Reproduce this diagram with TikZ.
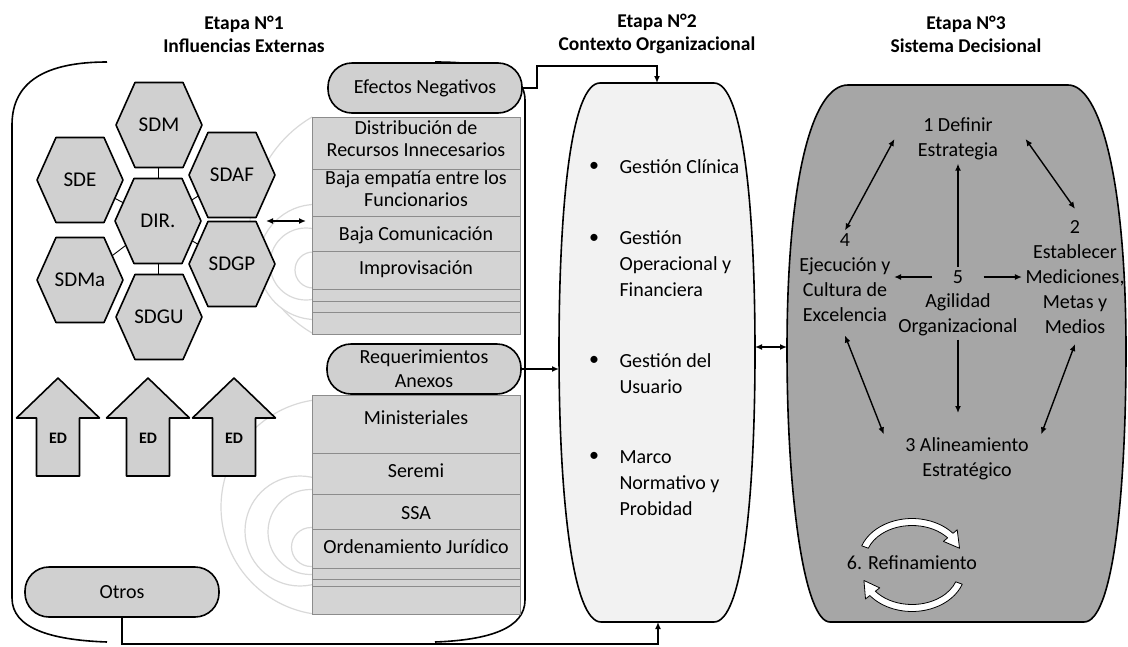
\documentclass[tikz,border=0pt]{standalone}
\usepackage{fontspec}
\setmainfont{Carlito}
\usetikzlibrary{arrows.meta,backgrounds}

\tikzset{
	marco/.style={line width=1.6pt},
	hexa/.style={draw, line width=1.6pt, fill=gray!37, line join=round},
	hextexto/.style={font=\fontsize{21}{25}\selectfont, inner sep=1pt},
	enlace/.style={line width=0.9pt},
	pildora/.style={draw, line width=1.6pt, fill=gray!37, rounded corners=24pt,
		minimum width=194pt, minimum height=50pt, align=center, inner sep=0pt,
		font=\fontsize{20}{24}\selectfont},
	fila/.style={draw=gray!90, line width=0.6pt, fill=gray!34},
	filatexto/.style={font=\fontsize{20}{22}\selectfont, align=center, inner sep=0pt},
	onda/.style={draw=gray!30, line width=1.2pt, fill=white},
	edtexto/.style={font=\bfseries\fontsize{16}{18}\selectfont},
	flecha/.style={line width=1.4pt, -{Latex[length=7pt,width=6pt]}},
	dflecha/.style={line width=1.4pt, {Latex[length=7pt,width=6pt]}-{Latex[length=7pt,width=6pt]}},
	titulo/.style={font=\bfseries\fontsize{19.5}{23}\selectfont, align=center},
	texto/.style={font=\fontsize{20}{25}\selectfont, align=center},
	item/.style={font=\fontsize{20}{26}\selectfont, align=left, anchor=west},
	curva/.style={draw, fill=white, line width=0.8pt, line join=round}
}

\begin{document}
\begin{tikzpicture}[x=1pt,y=-1pt]
	\useasboundingbox (0,0) rectangle (1128,646);

	% titulos
	\node[titulo] (t1) at (244,34) {Etapa N°1\\Influencias Externas};
	\node[titulo] (t2) at (657,34) {Etapa N°2\\Contexto Organizacional};
	\node[titulo] (t3) at (966,34) {Etapa N°3\\Sistema Decisional};

	% etapa 1
	\draw[marco] (107,62) .. controls (45,62) and (12,82) .. (12,125) -- (12,598)
		.. controls (12,628) and (50,640) .. (107,642);
	\draw[marco] (435,62) .. controls (497,62) and (525,75) .. (525,100) -- (525,600)
		.. controls (525,628) and (490,640) .. (435,642);

	\begin{scope}
		\clip (220,100) rectangle (312,340);
		\foreach \cx/\cy/\r in {375/225/125, 316/262/57.6, 306/264/36, 313/270/18}
			\draw[onda] (\cx,\cy) circle[radius=\r pt];
	\end{scope}
	\begin{scope}
		\clip (200,380) rectangle (312,640);
		\foreach \cx/\cy/\r in {329/507/108, 300/531/55, 310.5/532/42.5, 311/547/19.5}
			\draw[onda] (\cx,\cy) circle[radius=\r pt];
	\end{scope}

	\foreach \nm/\cx/\cy/\txt in {sdm/159/125/SDM, sde/80/180/SDE, sdaf/232/175/SDAF,
		dir/158/221/DIR., sdma/80/280/SDMa, sdgp/232/264/SDGP, sdgu/159/317/SDGU} {
		\draw[hexa] (\cx-43,\cy) -- (\cx-24,\cy-42.5) -- (\cx+24,\cy-42.5) -- (\cx+43,\cy)
			-- (\cx+24,\cy+42.5) -- (\cx-24,\cy+42.5) -- cycle;
		\node[hextexto] (\nm) at (\cx,\cy) {\txt};
	}
	\begin{pgfonlayer}{background}
		\foreach \h in {sdm,sde,sdaf,sdgp,sdma,sdgu}
			\draw[enlace] (dir) -- (\h);
	\end{pgfonlayer}

	\coordinate (hexunion) at (266,221);
	\coordinate (ondaA) at (306,221);
	\draw[dflecha] (hexunion) -- (ondaA);

	\foreach \nm/\ya/\yb/\yt/\txt in {r1/117/169/139/{Distribución de\\Recursos Innecesarios},
		r2/169/216/189/{Baja empatía entre los\\Funcionarios}, r3/216/251/235/{Baja Comunicación},
		r4/251/289/269/{Improvisación}, r5/289/301/295/{}, r6/301/312/306/{}, r7/312/334/323/{},
		s1/395/453/418/{Ministeriales}, s2/453/494/471/{Seremi}, s3/494/529/513/{SSA},
		s4/529/568/547/{Ordenamiento Jurídico}, s5/568/579/573/{}, s6/579/586/582/{},
		s7/586/614/600/{}} {
		\draw[fila] (312,\ya) rectangle (520,\yb);
		\node[filatexto] (\nm) at (416,\yt) {\txt};
	}

	\foreach \n/\cx in {1/58, 2/148, 3/234} {
		\draw[hexa] (\cx-21.5,476) -- (\cx-21.5,418) -- (\cx-41.5,418) -- (\cx,378)
			-- (\cx+41.5,418) -- (\cx+21.5,418) -- (\cx+21.5,476) -- cycle;
		\node[edtexto] (ed\n) at (\cx,438) {ED};
	}

	\node[pildora] (efectos) at (425,88) {Efectos Negativos};
	\node[pildora] (reqs) at (424,369) {Requerimientos\\Anexos};
	\node[pildora] (otros) at (122,592) {Otros};

	% etapa 2
	\draw[line width=1.6pt, fill=gray!10] (600,83) -- (714,83)
		.. controls (742,83) and (755,200) .. (755,352)
		.. controls (755,500) and (742,622) .. (714,622) -- (601,622)
		.. controls (573,622) and (559,500) .. (559,352)
		.. controls (559,200) and (572,83) .. (600,83) -- cycle;
	\foreach \nm/\y/\txt in {g1/167/{Gestión Clínica}, g2/264/{Gestión\\Operacional y\\Financiera},
		g3/374/{Gestión del\\Usuario}, g4/483/{Marco\\Normativo y\\Probidad}}
		\node[item] (\nm) at (616,\y) {\txt};
	\foreach \y in {167,239,361,457}
		\node[font=\fontsize{20}{25}\selectfont] at (594,\y) {•};

	\coordinate (codo) at (537,66);
	\coordinate (e2n) at (657,83);
	\coordinate (e2w) at (559,369);
	\coordinate (e2s) at (658,622);
	\coordinate (piso) at (658,644);
	\coordinate (e2e) at (755,347);
	\coordinate (e3w) at (787,347);
	\draw[flecha] (efectos.east) -| (codo) -| (e2n);
	\draw[flecha] (reqs.east) -- (e2w);
	\draw[flecha] (otros.south) |- (piso) -- (e2s);
	\draw[dflecha] (e2e) -- (e3w);

	% etapa 3
	\draw[line width=1.6pt, fill=gray!70] (848,85) -- (1068,85)
		.. controls (1100,85) and (1126,180) .. (1126,350)
		.. controls (1126,500) and (1112,622) .. (1084,622) -- (830,622)
		.. controls (805,622) and (787,500) .. (787,350)
		.. controls (787,180) and (812,85) .. (848,85) -- cycle;

	\node[texto] (n1) at (958,139) {1 Definir\\Estrategia};
	\node[texto] (n2) at (1075,277) {2\\Establecer\\Mediciones,\\Metas y\\Medios};
	\node[texto] (n4) at (845,278) {4\\Ejecución y\\Cultura de\\Excelencia};
	\node[texto] (n5) at (958,277) {5};
	\node[texto] (n5b) at (958,315) {Agilidad\\Organizacional};
	\node[texto] (n3) at (967,459) {3 Alineamiento\\Estratégico};
	\node[texto] (n6) at (912,563) {6. Refinamiento};
	\coordinate (n3top) at (958,413);

	\draw[dflecha] ([xshift=-20pt]n1.west) -- (n4.north);
	\draw[dflecha] ([xshift=24pt]n1.east) -- ([yshift=8pt]n2.north);
	\draw[flecha] (n5) -- (n1);
	\draw[flecha] ([xshift=-17pt]n5.west) -- (n4.east |- n5);
	\draw[flecha] ([xshift=17pt]n5.east) -- (n2.west |- n5);
	\draw[flecha] (n5b) -- (n3top);
	\draw[dflecha] ([yshift=-10pt]n4.south) -- ([xshift=-18pt]n3.north west);
	\draw[dflecha] ([yshift=-7pt]n2.south) -- ([xshift=9pt]n3.north east);

	\begin{scope}[shift={(912,560)}]
		\draw[curva] (200:53.5 and 41.5) arc[start angle=200, end angle=320, x radius=53.5, y radius=41.5]
			-- (320:59 and 47) -- (342:50 and 38) -- (320:41 and 29)
			-- (320:46.5 and 34.5) arc[start angle=320, end angle=200, x radius=46.5, y radius=34.5] -- cycle;
	\end{scope}
	\begin{scope}[shift={(912,570)}]
		\draw[curva] (20:53.5 and 41.5) arc[start angle=20, end angle=142, x radius=53.5, y radius=41.5]
			-- (142:59 and 47) -- (164:50 and 38) -- (142:41 and 29)
			-- (142:46.5 and 34.5) arc[start angle=142, end angle=20, x radius=46.5, y radius=34.5] -- cycle;
	\end{scope}
\end{tikzpicture}
\end{document}
